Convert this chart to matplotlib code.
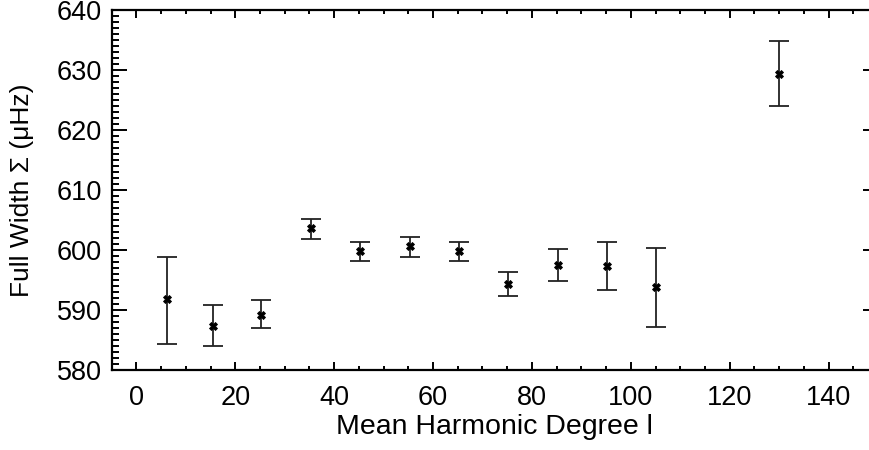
import matplotlib
matplotlib.use("Agg")
import matplotlib.pyplot as plt
from matplotlib.ticker import MultipleLocator
import numpy as np

# mean harmonic degree l and fitted full width (micro Hz)
degree = [6.1, 15.5, 25.3, 35.3, 45.3, 55.3, 65.3, 75.2, 85.2, 95.1, 105.1, 130.0]
width = [591.8, 587.4, 589.2, 603.6, 599.8, 600.6, 599.8, 594.3, 597.5, 597.3, 593.8, 629.4]
err_hi = [598.9, 590.8, 591.6, 605.1, 601.4, 602.1, 601.4, 596.3, 600.1, 601.3, 600.4, 634.8]
err_lo = [584.4, 584.0, 587.0, 601.9, 598.2, 598.9, 598.2, 592.3, 594.9, 593.3, 587.2, 624.0]

plt.rcParams['font.family'] = ['Liberation Sans', 'DejaVu Sans']

width = np.array(width)
yerr = [width - np.array(err_lo), np.array(err_hi) - width]

fig = plt.figure(figsize=(8.7, 4.5), dpi=100)
# right edge sits just past the picture, as in the original crop
ax = fig.add_axes([111.7/870, 1-370/450, (878-111.7)/870, 360/450])

ax.errorbar(degree, width, yerr=yerr, fmt='none', ecolor='#222222',
            elinewidth=1.3, capsize=7.5, capthick=1.3)
ax.plot(degree, width, linestyle='none', marker='X', markersize=5.5,
        mew=0.6, color='k')

ax.set_xlim(-5, 150)
ax.set_ylim(580, 640)
ax.xaxis.set_major_locator(MultipleLocator(20))
ax.xaxis.set_minor_locator(MultipleLocator(5))
ax.yaxis.set_major_locator(MultipleLocator(10))
ax.yaxis.set_minor_locator(MultipleLocator(1))

for s in ax.spines.values():
    s.set_linewidth(1.6)

ax.tick_params(axis='x', which='both', direction='in', top=True, bottom=True,
               width=1.4, labelsize=19.5, pad=11)
ax.tick_params(axis='x', which='major', length=6)
ax.tick_params(axis='x', which='minor', length=3)
ax.tick_params(axis='y', which='both', direction='in', left=True, right=True,
               width=1.4, labelsize=19.5, pad=7)
ax.tick_params(axis='y', which='major', length=11)
ax.tick_params(axis='y', which='minor', length=5, right=False)

ax.set_xlabel('Mean Harmonic Degree l', fontsize=20.5)
ax.set_ylabel('Full Width \u03a3 (\u03bcHz)', fontsize=19)
ax.xaxis.set_label_coords(0.5, -0.122)
ax.yaxis.set_label_coords(-0.102, 0.5)

fig.savefig('out.png', dpi=100)
